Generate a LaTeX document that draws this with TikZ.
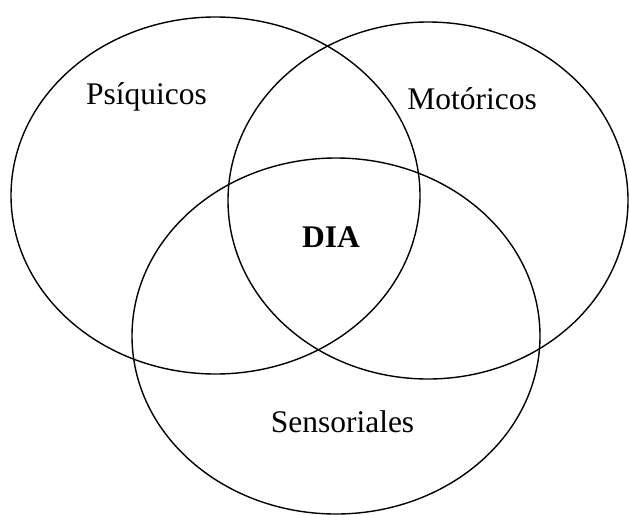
\documentclass[tikz,border=0pt]{standalone}
\usepackage{fontspec}
\setmainfont{Liberation Serif}
\begin{document}
\begin{tikzpicture}[x=1pt,y=-1pt,
  venn/.style={draw=black,line width=1.4pt},
  lbl/.style={font=\fontsize{31.5}{36}\selectfont,inner sep=0pt,anchor=base}]
\useasboundingbox (0,0) rectangle (629,514);
\draw[venn] (215.5,195.5) ellipse [x radius=204.5,y radius=178.5];
\draw[venn] (428,200.5) ellipse [x radius=200,y radius=178.5];
\draw[venn] (336,336) ellipse [x radius=204,y radius=178];
\node[lbl] (psi) at (146.5,104) {Psíquicos};
\node[lbl] (mot) at (472,109) {Motóricos};
\node[lbl,font=\fontsize{31.5}{36}\selectfont\bfseries] (dia) at (331,247) {DIA};
\node[lbl] (sen) at (342.5,432) {Sensoriales};
\end{tikzpicture}
\end{document}
